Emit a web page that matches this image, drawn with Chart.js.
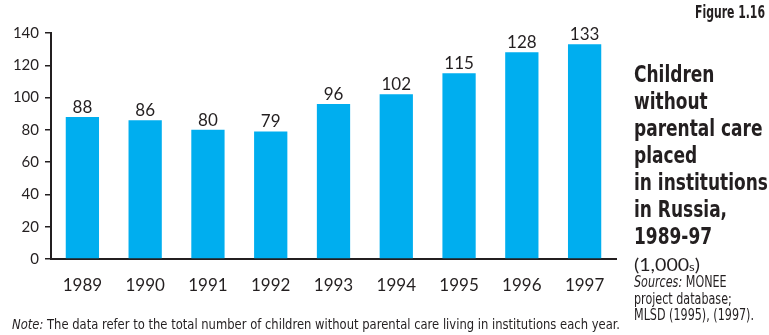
<!DOCTYPE html>
<html lang="en">
<head>
	<meta charset="UTF-8" />
	<title>Children without parental care placed in institutions in Russia</title>
	<script src="https://cdn.jsdelivr.net/npm/chart.js@4"></script>
	<style>
		html, body { margin: 0; padding: 0; background: #fff; }
		#wrap { position: relative; width: 769px; height: 335px; overflow: hidden; }
		#chart { position: absolute; left: 0; top: 0; }
		.side { position: absolute; color: #231f20; white-space: nowrap; transform-origin: 0 0;
			font-family: "DejaVu Sans", sans-serif; font-stretch: condensed; }
		#fig { left: 695px; top: 2px; font-weight: bold; font-size: 17px; }
		#title { left: 634px; top: 61px; font-weight: bold; font-size: 23px; line-height: 27px; }
		#unit { left: 634px; top: 253px; font-family: Lato, sans-serif; font-size: 18px; }
		#unit .s { font-size: 12px; }
		#src { left: 634px; top: 274px; font-size: 15px; line-height: 16.5px; }
		#note { left: 12px; top: 316px; font-size: 13.5px; }
	</style>
</head>
<body>
	<div id="wrap">
		<canvas id="chart" width="769" height="335"></canvas>
		<div class="side" id="fig" data-w="70">Figure 1.16</div>
		<div class="side" id="title" data-w="134">Children<br>without<br>parental care<br>placed<br>in institutions<br>in Russia,<br>1989-97</div>
		<div class="side" id="unit" data-w="66">(1,000<span class="s">s</span>)</div>
		<div class="side" id="src" data-w="120"><i>Sources:</i> MONEE<br>project database;<br>MLSD (1995), (1997).</div>
		<div class="side" id="note" data-w="608"><i>Note:</i> The data refer to the total number of children without parental care living in institutions each year.</div>
	</div>

	<script>
		const years = ['1989', '1990', '1991', '1992', '1993', '1994', '1995', '1996', '1997'];
		const children = [88, 86, 80, 79, 96, 102, 115, 128, 133];
		const yTicks = [0, 20, 40, 60, 80, 100, 120, 140];

		const ink = '#231f20';
		const numFont = 'Lato, "Open Sans", sans-serif';

		// squeeze the side texts horizontally to their set widths
		document.querySelectorAll('[data-w]').forEach(el => {
			const w = el.getBoundingClientRect().width;
			el.style.transform = `scaleX(${Number(el.dataset.w) / w})`;
		});

		// value labels above each bar
		const barLabels = {
			id: 'barLabels',
			afterDatasetsDraw(chart) {
				const ctx = chart.ctx;
				const meta = chart.getDatasetMeta(0);
				ctx.save();
				ctx.fillStyle = ink;
				ctx.font = `17px ${numFont}`;
				ctx.textAlign = 'center';
				ctx.textBaseline = 'bottom';
				meta.data.forEach((bar, i) => {
					ctx.fillText(String(children[i]), bar.x, bar.y - 1);
				});
				ctx.restore();
			}
		};

		new Chart(document.getElementById('chart'), {
			type: 'bar',
			data: {
				labels: years,
				datasets: [{
					data: children,
					backgroundColor: '#00aeef',
					categoryPercentage: 0.53,
					barPercentage: 1,
				}]
			},
			options: {
				responsive: false,
				animation: false,
				layout: { padding: { top: 33, right: 153, bottom: 0, left: 0 } },
				plugins: {
					legend: { display: false },
					tooltip: { enabled: false },
				},
				scales: {
					x: {
						grid: { display: false },
						border: { display: true, color: ink, width: 2 },
						ticks: { color: ink, font: { family: numFont, size: 17 }, padding: 8 },
						afterFit(scale) { scale.height = 76; },
					},
					y: {
						min: 0,
						max: 140,
						afterBuildTicks(scale) { scale.ticks = yTicks.map(v => ({ value: v })); },
						grid: { drawOnChartArea: false, drawTicks: true, tickLength: 6, color: ink, lineWidth: 1.5 },
						border: { display: true, color: ink, width: 2 },
						ticks: { color: ink, font: { family: numFont, size: 15 }, padding: 6 },
						afterFit(scale) { scale.width = 51; },
					}
				}
			},
			plugins: [barLabels]
		});
	</script>
</body>
</html>
